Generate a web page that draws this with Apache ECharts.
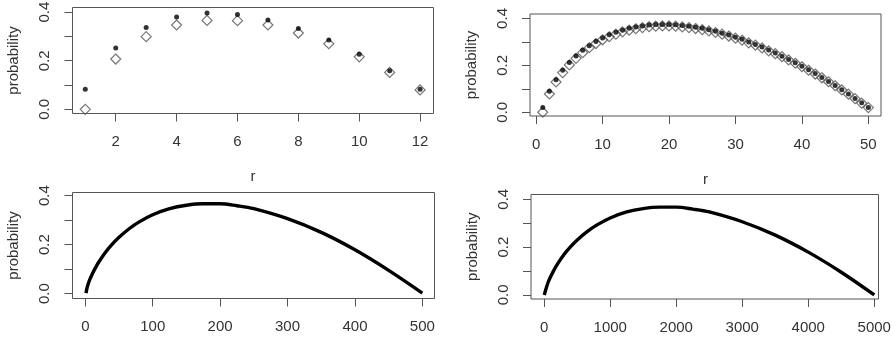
<!DOCTYPE html>
<html>
<head>
<meta charset="utf-8">
<script src="https://cdn.jsdelivr.net/npm/echarts@6/dist/echarts.min.js"></script>
<style>
html,body{margin:0;padding:0;background:#fff;}
#c{width:893px;height:339px;}
</style>
</head>
<body>
<div id="c"></div>
<script>
// ---- data ----
const r12 = [1,2,3,4,5,6,7,8,9,10,11,12];
const exact12 = [0.083,0.252,0.337,0.380,0.396,0.390,0.368,0.333,0.285,0.227,0.159,0.083];
const approx12 = [0.000,0.207,0.299,0.347,0.366,0.365,0.347,0.314,0.270,0.216,0.152,0.080];

const r50 = [1,2,3,4,5,6,7,8,9,10,11,12,13,14,15,16,17,18,19,20,21,22,23,24,25,26,27,28,29,30,31,32,33,34,35,36,37,38,39,40,41,42,43,44,45,46,47,48,49,50];
const exact50 = [0.020,0.090,0.139,0.179,0.212,0.240,0.264,0.284,0.302,0.317,0.330,0.341,0.350,0.358,0.364,0.368,0.372,0.374,0.374,0.374,0.373,0.370,0.367,0.363,0.358,0.352,0.345,0.337,0.329,0.320,0.311,0.300,0.289,0.278,0.265,0.253,0.239,0.225,0.211,0.196,0.181,0.165,0.148,0.131,0.114,0.096,0.078,0.059,0.040,0.020];
const approx50 = [0.000,0.078,0.129,0.169,0.202,0.230,0.254,0.275,0.293,0.309,0.322,0.333,0.343,0.350,0.356,0.361,0.365,0.367,0.368,0.368,0.367,0.364,0.361,0.357,0.352,0.347,0.340,0.333,0.325,0.316,0.307,0.296,0.286,0.274,0.262,0.250,0.237,0.223,0.209,0.194,0.179,0.163,0.147,0.130,0.113,0.095,0.077,0.058,0.039,0.020];

const r500 = [1,3,6,10,15,20,30,40,50,65,80,100,125,150,175,200,225,250,300,350,400,450,500];
const prob500 = [0.002,0.028,0.053,0.078,0.105,0.129,0.169,0.202,0.230,0.265,0.293,0.322,0.347,0.361,0.367,0.367,0.359,0.347,0.306,0.250,0.179,0.095,0.002];

const r5000 = [1,30,60,100,150,200,300,400,500,650,800,1000,1250,1500,1750,2000,2250,2500,3000,3500,4000,4500,5000];
const prob5000 = [0.000,0.028,0.053,0.078,0.105,0.129,0.169,0.202,0.230,0.265,0.293,0.322,0.347,0.361,0.367,0.367,0.359,0.347,0.306,0.250,0.179,0.095,0.000];

const yTicks = [0,0.1,0.2,0.3,0.4];
const yLabels = [0,0.2,0.4];
const xTicks12 = [2,4,6,8,10,12];
const xTicks50 = [0,10,20,30,40,50];
const xTicks500 = [0,100,200,300,400,500];
const xTicks5000 = [0,1000,2000,3000,4000,5000];

// ---- chart ----
const FONT = 'Liberation Sans, Arial, sans-serif';
const TXT = '#333';
const LINE = '#555';

function pairs(xs, ys){ return xs.map((x,i)=>[x, ys[i]]); }

const grids = [
  {left:72.5, top:7.5, width:361, height:106},
  {left:530, top:14, width:351, height:102},
  {left:72.5, top:192.5, width:362, height:106},
  {left:531, top:194.5, width:347.5, height:104.5}
].map(g => Object.assign({show:true, borderColor:LINE, borderWidth:1, backgroundColor:'transparent', containLabel:false, outerBoundsMode:'none'}, g));

const xRanges = [[0.58,12.44],[-0.92,51.9],[-19,518],[-200,5064]];
const yRanges = [[-0.017,0.419],[-0.016,0.419],[-0.02,0.413],[-0.017,0.42]];
const xTickSets = [xTicks12, xTicks50, xTicks500, xTicks5000];
const xNames = ['r','r','',''];

const xAxes = xTickSets.map((t,i)=>({
  type:'value', gridIndex:i, min:xRanges[i][0], max:xRanges[i][1],
  name:xNames[i], nameLocation:'middle', nameGap:56,
  nameTextStyle:{fontFamily:FONT, fontSize:15, color:TXT},
  axisLine:{show:false, onZero:false},
  splitLine:{show:false},
  axisTick:{show:true, length:8, customValues:t, lineStyle:{color:LINE, width:1}},
  axisLabel:{show:true, customValues:t, margin:21, fontFamily:FONT, fontSize:15, color:TXT,
    formatter:v=>String(v)}
}));

const yAxes = [0,1,2,3].map(i=>({
  type:'value', gridIndex:i, min:yRanges[i][0], max:yRanges[i][1],
  name:'probability', nameLocation:'middle', nameGap:51, nameRotate:90,
  nameTextStyle:{fontFamily:FONT, fontSize:15, color:TXT},
  axisLine:{show:false, onZero:false},
  splitLine:{show:false},
  axisTick:{show:true, length:8, customValues:yTicks, lineStyle:{color:LINE, width:1}},
  axisLabel:{show:true, customValues:yLabels, rotate:90, margin:20, fontFamily:FONT, fontSize:15, color:TXT,
    formatter:v=>Number(v).toFixed(1)}
}));

const diamondStyle = {color:'rgba(255,255,255,0)', borderColor:'#555', borderWidth:1.2};
const dotStyle = {color:'#000'};

const series = [
  {type:'scatter', xAxisIndex:0, yAxisIndex:0, data:pairs(r12, approx12), symbol:'diamond', symbolSize:10, itemStyle:diamondStyle, z:2},
  {type:'scatter', xAxisIndex:0, yAxisIndex:0, data:pairs(r12, exact12), symbol:'circle', symbolSize:5, itemStyle:dotStyle, z:3},
  {type:'scatter', xAxisIndex:1, yAxisIndex:1, data:pairs(r50, approx50), symbol:'diamond', symbolSize:10, itemStyle:diamondStyle, z:2},
  {type:'scatter', xAxisIndex:1, yAxisIndex:1, data:pairs(r50, exact50), symbol:'circle', symbolSize:5, itemStyle:dotStyle, z:3},
  {type:'line', xAxisIndex:2, yAxisIndex:2, data:pairs(r500, prob500), showSymbol:false, smooth:0.35, lineStyle:{color:'#000', width:3.4}, z:3},
  {type:'line', xAxisIndex:3, yAxisIndex:3, data:pairs(r5000, prob5000), showSymbol:false, smooth:0.35, lineStyle:{color:'#000', width:3.4}, z:3}
];

const chart = echarts.init(document.getElementById('c'), null, {renderer:'canvas'});
chart.setOption({
  animation:false,
  backgroundColor:'#fff',
  grid:grids,
  xAxis:xAxes,
  yAxis:yAxes,
  series:series
});
</script>
</body>
</html>
